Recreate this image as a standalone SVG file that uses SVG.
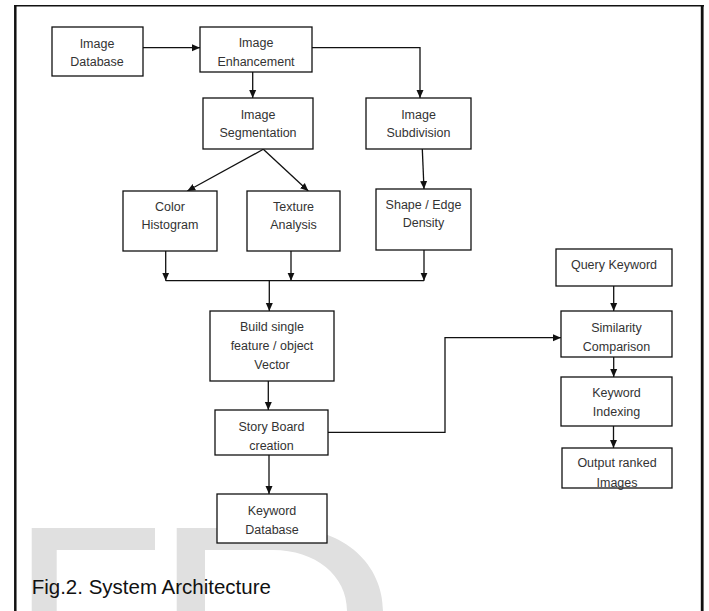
<svg xmlns="http://www.w3.org/2000/svg" width="709" height="611" viewBox="0 0 709 611">
<style>
.box{fill:#fff;stroke:#111;stroke-width:1.3}
.t{font-family:"Liberation Sans",Arial,sans-serif;font-size:12.5px;fill:#333;text-anchor:middle}
.c{fill:none;stroke:#111;stroke-width:1.3}
.wm{fill:#e0e0e0}
</style>
<defs>
<marker id="ah" markerUnits="userSpaceOnUse" markerWidth="9" markerHeight="8" refX="8" refY="4" orient="auto">
<path d="M0,0.5 L8,4 L0,7.5 Z" fill="#111"/>
</marker>
</defs>
<rect width="709" height="611" fill="#fff"/>
<g id="watermark">
<path class="wm" d="M31.7,528 H155 V550 H56.7 V611 H31.7 Z"/>
<path class="wm" d="M176.7,528 H287 C345,528 383,565 383,611 H347 C347,575 315,550 273,550 H205 V611 H176.7 Z"/>
</g>
<g id="frame" stroke="#111" fill="none">
<line x1="14" y1="5.8" x2="704" y2="5.8" stroke-width="1.6"/>
<line x1="15.3" y1="5" x2="15.3" y2="611" stroke-width="2.5"/>
<line x1="702.2" y1="5" x2="702.2" y2="611" stroke-width="2.8"/>
</g>
<g id="connectors">
<path class="c" d="M143,47.7 H200" marker-end="url(#ah)"/>
<path class="c" d="M312,47.7 H420 V98" marker-end="url(#ah)"/>
<path class="c" d="M252.7,72 V98" marker-end="url(#ah)"/>
<path class="c" d="M263.3,149.3 L187.3,191" marker-end="url(#ah)"/>
<path class="c" d="M263.3,149.3 L308.3,191" marker-end="url(#ah)"/>
<path class="c" d="M422.3,149 L424,189" marker-end="url(#ah)"/>
<path class="c" d="M165.7,251 V280.7" marker-end="url(#ah)"/>
<path class="c" d="M291,251 V280.7" marker-end="url(#ah)"/>
<path class="c" d="M424,250 V280.7" marker-end="url(#ah)"/>
<path class="c" d="M165.7,280.7 H424"/>
<path class="c" d="M269.3,280.7 V311" marker-end="url(#ah)"/>
<path class="c" d="M268.3,381 V410" marker-end="url(#ah)"/>
<path class="c" d="M269,455 V494" marker-end="url(#ah)"/>
<path class="c" d="M328,432.3 H445 V337.7 H561" marker-end="url(#ah)"/>
<path class="c" d="M613.7,286 V311" marker-end="url(#ah)"/>
<path class="c" d="M613.7,357 V377" marker-end="url(#ah)"/>
<path class="c" d="M613.5,426 V448" marker-end="url(#ah)"/>
</g>
<g id="image-database"><rect class="box" x="52" y="27" width="91" height="49"/><text class="t" x="97" y="47.8">Image</text><text class="t" x="97" y="66.2">Database</text></g>
<g id="image-enhancement"><rect class="box" x="200" y="27" width="112" height="45"/><text class="t" x="256" y="47.2">Image</text><text class="t" x="256" y="65.5">Enhancement</text></g>
<g id="image-segmentation"><rect class="box" x="203" y="98" width="110" height="51"/><text class="t" x="258" y="118.8">Image</text><text class="t" x="258" y="137.2">Segmentation</text></g>
<g id="image-subdivision"><rect class="box" x="366" y="98" width="105" height="51"/><text class="t" x="418.5" y="118.8">Image</text><text class="t" x="418.5" y="137.2">Subdivision</text></g>
<g id="color-histogram"><rect class="box" x="123" y="191" width="94" height="60"/><text class="t" x="170" y="211.2">Color</text><text class="t" x="170" y="228.8">Histogram</text></g>
<g id="texture-analysis"><rect class="box" x="247" y="191" width="93" height="60"/><text class="t" x="293.5" y="211.2">Texture</text><text class="t" x="293.5" y="228.8">Analysis</text></g>
<g id="shape-edge"><rect class="box" x="376" y="189" width="95" height="61"/><text class="t" x="423.5" y="209.2">Shape / Edge</text><text class="t" x="423.5" y="226.8">Density</text></g>
<g id="build-vector"><rect class="box" x="210" y="311" width="124" height="70"/><text class="t" x="272" y="331.2">Build single</text><text class="t" x="272" y="350.2">feature / object</text><text class="t" x="272" y="368.5">Vector</text></g>
<g id="story-board"><rect class="box" x="215" y="410" width="113" height="45"/><text class="t" x="271.5" y="430.5">Story Board</text><text class="t" x="271.5" y="449.5">creation</text></g>
<g id="keyword-database"><rect class="box" x="217" y="494" width="110" height="49"/><text class="t" x="272" y="514.5">Keyword</text><text class="t" x="272" y="533.8">Database</text></g>
<g id="query-keyword"><rect class="box" x="556" y="249" width="116" height="37"/><text class="t" x="614" y="268.5">Query Keyword</text></g>
<g id="similarity"><rect class="box" x="561" y="311" width="111" height="46"/><text class="t" x="616.5" y="331.8">Similarity</text><text class="t" x="616.5" y="351.2">Comparison</text></g>
<g id="keyword-indexing"><rect class="box" x="561" y="377" width="111" height="49"/><text class="t" x="616.5" y="397.2">Keyword</text><text class="t" x="616.5" y="416.2">Indexing</text></g>
<g id="output-ranked"><rect class="box" x="562" y="448" width="110" height="40"/><text class="t" x="617" y="467.2">Output ranked</text><text class="t" x="617" y="486.8">Images</text></g>
<text x="31.7" y="594" font-family="'Liberation Sans',Arial,sans-serif" font-size="20.5" fill="#111">Fig.2. System Architecture</text>
</svg>
